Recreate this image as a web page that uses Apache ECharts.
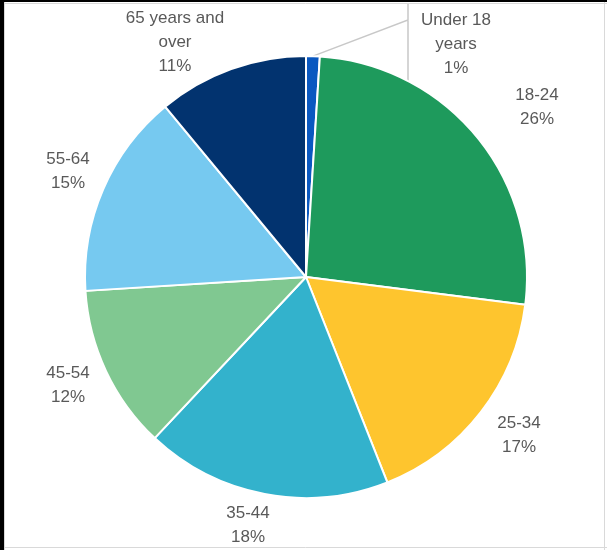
<!DOCTYPE html>
<html>
<head>
<meta charset="utf-8">
<script src="https://cdn.jsdelivr.net/npm/echarts@6/dist/echarts.min.js"></script>
<style>
  html, body { margin: 0; padding: 0; background: #ffffff; }
  #chart { width: 607px; height: 550px; }
</style>
</head>
<body>
<div id="chart"></div>
<script>
// Age groups, clockwise from 12 o'clock
const categories = ['Under 18\nyears', '18-24', '25-34', '35-44', '45-54', '55-64', '65 years and\nover'];
// Share of total, percent
const shares = [1, 26, 17, 18, 12, 15, 11];
const sliceColors = ['#0a58c0', '#1e9a5c', '#fec52e', '#33b2cc', '#80c891', '#76c9f0', '#02336f'];

// Pie geometry (pixels)
const CX = 306, CY = 277, R = 221;
// Label centres, one per slice
const labelAnchors = [[456, 44], [537, 107], [519, 435], [248, 525], [68, 385], [68, 171], [175, 42]];
// The small first slice gets a leader line that bends at this x
const leaderX = 408, leaderBendY = 20, leaderTopY = 4;

const total = shares.reduce((a, b) => a + b, 0);
const firstMid = (shares[0] / 2) / total * 2 * Math.PI;
const leaderStart = [CX + R * Math.sin(firstMid), CY - R * Math.cos(firstMid)];
const leaderBottomY = CY - Math.sqrt(R * R - (leaderX - CX) * (leaderX - CX));

const chart = echarts.init(document.getElementById('chart'), null, { renderer: 'canvas' });

chart.setOption({
  animation: false,
  backgroundColor: '#ffffff',
  graphic: [
    { type: 'rect', shape: { x: 0, y: 0, width: 607, height: 2 }, style: { fill: '#000000' }, z: 10 },
    { type: 'rect', shape: { x: 0, y: 0, width: 4, height: 550 }, style: { fill: '#000000' }, z: 10 },
    { type: 'line', shape: { x1: 4, y1: 3.5, x2: 607, y2: 3.5 }, style: { stroke: '#d9d9d9', lineWidth: 1 }, z: 10 },
    { type: 'line', shape: { x1: 4.5, y1: 2, x2: 4.5, y2: 550 }, style: { stroke: '#d9d9d9', lineWidth: 1 }, z: 10 },
    { type: 'line', shape: { x1: 604.5, y1: 2, x2: 604.5, y2: 550 }, style: { stroke: '#d9d9d9', lineWidth: 1 }, z: 10 },
    { type: 'line', shape: { x1: 4, y1: 547.5, x2: 607, y2: 547.5 }, style: { stroke: '#d9d9d9', lineWidth: 1 }, z: 10 }
  ],
  series: [{
    type: 'pie',
    center: [CX, CY],
    radius: [0, R],
    startAngle: 90,
    clockwise: true,
    avoidLabelOverlap: false,
    itemStyle: { borderColor: '#ffffff', borderWidth: 2 },
    label: {
      show: true,
      position: 'outside',
      formatter: '{b}\n{c}%',
      fontFamily: '"Liberation Sans", Arial, sans-serif',
      fontSize: 17,
      lineHeight: 24,
      color: '#595959',
      align: 'center'
    },
    labelLine: { show: false },
    labelLayout: function (params) {
      const i = params.dataIndex;
      const out = {
        x: labelAnchors[i][0],
        y: labelAnchors[i][1],
        align: 'center',
        verticalAlign: 'middle'
      };
      if (i === 0) {
        out.labelLinePoints = [
          leaderStart,
          [leaderX, leaderBendY],
          [leaderX, leaderTopY],
          [leaderX, leaderBottomY]
        ];
      }
      return out;
    },
    data: categories.map((name, i) => ({
      name: name,
      value: shares[i],
      itemStyle: { color: sliceColors[i] },
      labelLine: i === 0
        ? { show: true, lineStyle: { color: '#c8c8c8', width: 1.5 } }
        : { show: false }
    }))
  }]
});
</script>
</body>
</html>
